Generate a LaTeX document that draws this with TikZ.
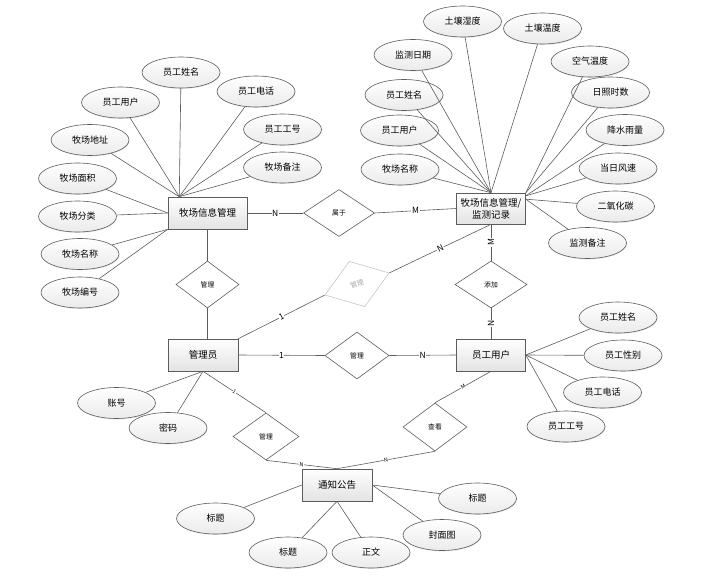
\documentclass[tikz,border=0pt]{standalone}
\usepackage{fontspec}
\usetikzlibrary{shapes.geometric,shadows}
\newfontfamily\cjk{Noto Sans CJK SC}
\definecolor{edge}{HTML}{5C5C5C}

\begin{document}
\begin{tikzpicture}[x=1pt, y=-1pt, line width=0.6pt,
  every node/.style={font=\cjk},
  entity/.style={rectangle, draw=edge, top color=white, bottom color=gray!22, minimum width=70pt, minimum height=32pt, inner sep=1pt, align=center, font=\cjk\fontsize{9.5}{12}\selectfont},
  attr/.style={ellipse, draw=edge, top color=white, bottom color=gray!16, minimum width=78pt, minimum height=31pt, inner sep=0pt, font=\cjk\fontsize{9}{10}\selectfont, drop shadow={opacity=0.2, shadow xshift=0.5pt, shadow yshift=-0.9pt}},
  rel/.style={diamond, draw=edge, fill=white, minimum width=64pt, minimum height=47pt, inner sep=0pt, font=\cjk\fontsize{6.8}{7}\selectfont},
  card/.style={fill=white, inner sep=0.6pt, font=\cjk\fontsize{8.5}{9}\selectfont},
  tiny/.style={fill=white, inner sep=0.4pt, font=\cjk\fontsize{5.5}{6}\selectfont}]
  \useasboundingbox (0,0) rectangle (706,580);
  \node[entity, minimum width=79pt] (farm) at (207.5,213) {牧场信息管理};
  \node[entity, minimum width=69pt, minimum height=31pt] (mon) at (491,208.5) {牧场信息管理/\\监测记录};
  \node[entity] (adm) at (203,355) {管理员};
  \node[entity, minimum width=69pt] (user) at (491,355) {员工用户};
  \node[entity] (note) at (337,485) {通知公告};
  \node[rel, minimum width=71pt] (r1) at (339,213) {属于};
  \node[rel, minimum width=63pt] (r2) at (207.5,284.5) {管理};
  \node[rel, minimum width=68pt, minimum height=48pt, draw=gray!45, text=gray!70, rotate=19] (r3) at (357,284) {管理};
  \node[rel, minimum width=72pt] (r4) at (491,284.5) {添加};
  \node[rel] (r5) at (357,355.5) {管理};
  \node[rel, minimum width=66pt] (r6) at (266,436.5) {管理};
  \node[rel, minimum height=48pt] (r7) at (435,427) {查看};
  \node[attr] (f1) at (181,72.5) {员工姓名};
  \node[attr] (f2) at (120.5,102.5) {员工用户};
  \node[attr] (f3) at (256,91.5) {员工电话};
  \node[attr] (f4) at (282.5,129.5) {员工工号};
  \node[attr] (f5) at (282.5,167.5) {牧场备注};
  \node[attr] (f6) at (90,140) {牧场地址};
  \node[attr] (f7) at (77.5,178.5) {牧场面积};
  \node[attr] (f8) at (77.5,216.5) {牧场分类};
  \node[attr] (f9) at (80,254) {牧场名称};
  \node[attr] (f10) at (80,292.5) {牧场编号};
  \node[attr] (m1) at (462.5,21.5) {土壤湿度};
  \node[attr] (m2) at (542.5,28.5) {土壤温度};
  \node[attr] (m3) at (413,55) {监测日期};
  \node[attr] (m4) at (590,61.5) {空气温度};
  \node[attr] (m5) at (404,95) {员工姓名};
  \node[attr] (m6) at (610.5,92.5) {日照时数};
  \node[attr] (m7) at (399.5,130.5) {员工用户};
  \node[attr] (m8) at (625,130) {降水雨量};
  \node[attr] (m9) at (400,169.5) {牧场名称};
  \node[attr] (m10) at (618,168.5) {当日风速};
  \node[attr] (m11) at (615.5,206.5) {二氧化碳};
  \node[attr] (m12) at (587.5,243) {监测备注};
  \node[attr] (u1) at (618,317.5) {员工姓名};
  \node[attr] (u2) at (623,355.5) {员工性别};
  \node[attr] (u3) at (602.5,392.5) {员工电话};
  \node[attr] (u4) at (566,426.5) {员工工号};
  \node[attr] (a1) at (116.5,403) {账号};
  \node[attr] (a2) at (168,428) {密码};
  \node[attr] (n1) at (215.5,518.5) {标题};
  \node[attr] (n2) at (288,552.5) {标题};
  \node[attr] (n3) at (371,552.5) {正文};
  \node[attr] (n4) at (442,535) {封面图};
  \node[attr] (n5) at (477.5,498.5) {标题};
  \begin{scope}[draw=edge]
  \draw (f1) -- (farm.150);
  \draw (f2) -- (farm.150);
  \draw (f3) -- (farm.150);
  \draw (f4) -- (farm.150);
  \draw (f5) -- (farm.150);
  \draw (f6) -- (farm.150);
  \draw (f7) -- (farm.west);
  \draw (f8) -- (farm.west);
  \draw (f9) -- (farm.south west);
  \draw (f10) -- (farm.south west);
  \draw (m1) -- (mon.north);
  \draw (m2) -- (mon.north);
  \draw (m3) -- (mon.north);
  \draw (m5) -- (mon.north);
  \draw (m7) -- (mon.north);
  \draw (m9) -- (mon.north);
  \draw (m4) -- (mon.north east);
  \draw (m6) -- (mon.north east);
  \draw (m8) -- (mon.20);
  \draw (m10) -- (mon.20);
  \draw (m11) -- (mon.15);
  \draw (m12) -- (mon.15);
  \draw (u1) -- (user.east);
  \draw (u2) -- (user.east);
  \draw (u3) -- (user.east);
  \draw (u4) -- (user.east);
  \draw (a1) -- (adm.south);
  \draw (a2) -- (adm.south);
  \draw (n1) -- (note.west);
  \draw (n2) -- (note.south);
  \draw (n3) -- (note.south);
  \draw (n4) -- (note.east);
  \draw (n5) -- (note.east);
  \draw (farm.east) -- node[card] {N} (r1.west);
  \draw (r1.east) -- node[card] {M} (mon.west);
  \draw (farm.south) -- (r2.north);
  \draw (r2.south) -- (r2.south |- adm.north);
  \draw (adm.north east) -- node[card, sloped] {1} (r3.west);
  \draw (r3.east) -- node[card, sloped] {N} (mon.south);
  \draw (mon.south) -- node[card, rotate=90] {M} (r4.north);
  \draw (r4.south) -- node[card, rotate=90] {N} (user.north);
  \draw (adm.east) -- node[card] {1} (r5.west);
  \draw (r5.east) -- node[card] {N} (user.west);
  \draw (adm.south) -- node[tiny, sloped] {1} (r6.north);
  \draw (r6.south) -- node[tiny, sloped] {N} (note.north);
  \draw (user.south) -- node[tiny, sloped] {M} (r7.north);
  \draw (r7.south) -- node[tiny, sloped] {N} (note.north);
  \end{scope}
\end{tikzpicture}
\end{document}
